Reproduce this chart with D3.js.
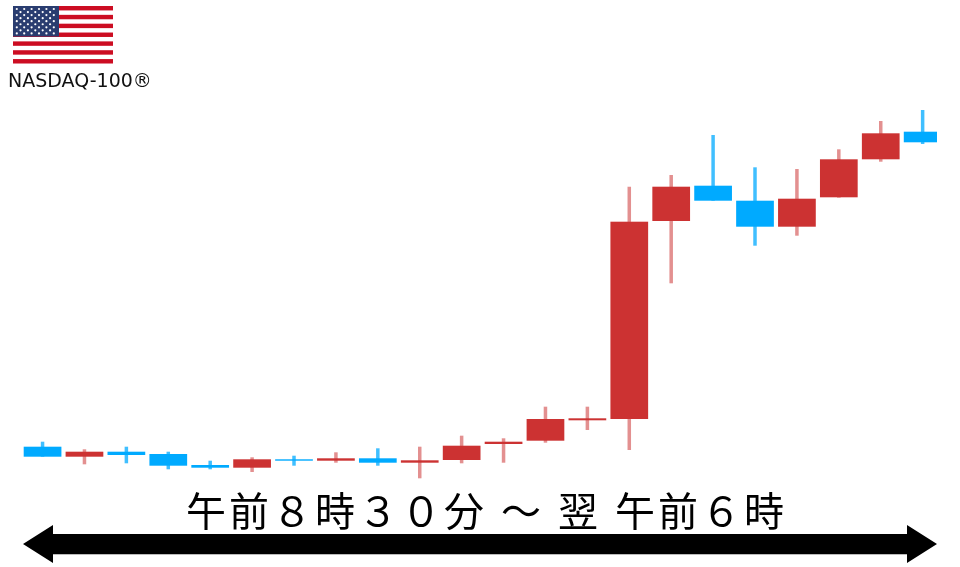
<!DOCTYPE html>
<html lang="ja">
<head>
<meta charset="utf-8">
<script src="https://cdn.jsdelivr.net/npm/d3@7"></script>
<style>
  html, body { margin: 0; background: #fff; overflow: hidden; }
</style>
</head>
<body>
<div class="chart"></div>
<script>
// hourly session, values (arbitrary index points)
const times = ['8:30', '9:30', '10:30', '11:30', '12:30', '13:30', '14:30', '15:30', '16:30', '17:30', '18:30',
  '19:30', '20:30', '21:30', '22:30', '23:30', '0:30', '1:30', '2:30', '3:30', '4:30', '5:30'];
const opens = [33.3, 23.3, 28.3, 26, 15, 12.3, 20.7, 19.3, 21.7, 17.3, 20, 36, 39.3, 59.7, 61, 259, 294.3, 279.3, 253.3, 282.7, 320.7, 348.3];
const closes = [23.3, 28.3, 25, 14.3, 12.3, 20.7, 19.3, 21.7, 17.3, 19.7, 34.3, 38.3, 61, 61.7, 258.3, 293.3, 279.3, 253.3, 281.3, 320.7, 346.7, 337.7];
const highs = [38.3, 30.7, 33.3, 28.3, 19.3, 22.7, 24.3, 27.7, 31.7, 33.3, 44.3, 41.7, 73.3, 73.3, 293.3, 305, 345, 312.7, 311, 330.7, 359, 370];
const lows = [23.3, 15.7, 16.7, 10.7, 10.7, 8, 14.3, 17.3, 14.3, 1.7, 16.7, 17.3, 37.3, 50, 30, 196.7, 279.3, 234.3, 244.3, 282.3, 318.3, 336];

const title = '午前８時３０分 ～ 翌 午前６時';
const indexLabel = 'NASDAQ-100®';

const width = 960;
const height = 567;
const red = '#cc3333';
const blue = '#00aaff';

const svg = d3.select('.chart')
  .append('svg')
  .attr('width', width)
  .attr('height', height)
  .style('display', 'block');

const defs = svg.append('defs');
defs.append('filter')
  .attr('id', 'soft')
  .append('feGaussianBlur')
  .attr('stdDeviation', 0.6);
defs.append('clipPath')
  .attr('id', 'plot')
  .append('rect')
  .attr('x', 0)
  .attr('y', 100)
  .attr('width', 937)
  .attr('height', 400);

const xScale = d3.scaleBand()
  .domain(times)
  .range([21.6, 943.6])
  .paddingInner(0.1)
  .paddingOuter(0.05);

const yScale = d3.scaleLinear()
  .domain([0, 380])
  .range([480, 100]);

const candles = svg.append('g')
  .attr('clip-path', 'url(#plot)')
  .attr('filter', 'url(#soft)')
  .selectAll('g')
  .data(times)
  .enter()
  .append('g')
  .attr('transform', d => `translate(${xScale(d)}, 0)`);

candles.append('line')
  .attr('x1', xScale.bandwidth() / 2)
  .attr('x2', xScale.bandwidth() / 2)
  .attr('y1', (d, i) => yScale(highs[i]))
  .attr('y2', (d, i) => yScale(lows[i]))
  .style('stroke', (d, i) => closes[i] >= opens[i] ? red : blue)
  .style('stroke-width', 3.5)
  .style('stroke-opacity', (d, i) => closes[i] >= opens[i] ? 0.55 : 0.75);

candles.append('rect')
  .attr('width', xScale.bandwidth())
  .attr('y', (d, i) => yScale(Math.max(opens[i], closes[i])))
  .attr('height', (d, i) => Math.abs(yScale(opens[i]) - yScale(closes[i])))
  .style('fill', (d, i) => closes[i] >= opens[i] ? red : blue);

// flag
const flag = svg.append('g')
  .attr('transform', 'translate(13, 6)')
  .attr('filter', 'url(#soft)');
const stripeScale = d3.scaleBand().domain(d3.range(13)).range([0, 57.5]);

flag.append('rect')
  .attr('width', 100)
  .attr('height', 57.5)
  .style('fill', '#fff');

flag.selectAll('.stripe')
  .data(d3.range(0, 13, 2))
  .enter()
  .append('rect')
  .attr('class', 'stripe')
  .attr('y', d => stripeScale(d))
  .attr('width', 100)
  .attr('height', stripeScale.bandwidth())
  .style('fill', '#cc0a20');

flag.append('rect')
  .attr('width', 46)
  .attr('height', 30.5)
  .style('fill', '#2c3e70');

const stars = d3.range(9).flatMap(row =>
  d3.range(row % 2 ? 5 : 6).map(col => ({ row, col })));

flag.selectAll('.star')
  .data(stars)
  .enter()
  .append('circle')
  .attr('class', 'star')
  .attr('cx', d => 3.8 + (d.row % 2 ? 3.7 : 0) + d.col * 7.4)
  .attr('cy', d => 3 + d.row * 3.05)
  .attr('r', 1.1)
  .style('fill', '#fff');

svg.append('text')
  .attr('x', 8)
  .attr('y', 87)
  .style('font-family', '"DejaVu Sans", sans-serif')
  .style('font-size', '19px')
  .style('fill', '#111')
  .text(indexLabel);

svg.append('text')
  .attr('x', 186)
  .attr('y', 526)
  .style('font-family', '"Noto Sans CJK JP", sans-serif')
  .style('font-size', '40px')
  .style('letter-spacing', '3px')
  .style('word-spacing', '2px')
  .style('fill', '#000')
  .text(title);

// double headed arrow
svg.append('line')
  .attr('x1', 50)
  .attr('x2', 910)
  .attr('y1', 554.5)
  .attr('y2', 554.5)
  .style('stroke', '#bbb');

svg.append('path')
  .attr('d', d3.line()([[23, 544], [53, 525], [53, 534], [907, 534], [907, 525], [937, 544], [907, 563], [907, 554], [53, 554], [53, 563]]) + 'Z')
  .style('fill', '#000');
</script>
</body>
</html>
